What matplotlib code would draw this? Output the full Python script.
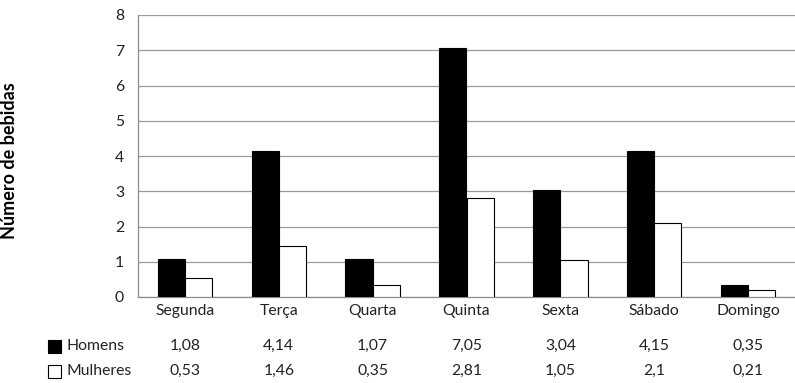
import numpy as np
import matplotlib.pyplot as plt
from matplotlib.patches import Rectangle

plt.rcParams['font.family'] = ['Lato', 'DejaVu Sans']

dias = ["Segunda", "Terça", "Quarta", "Quinta", "Sexta", "Sábado", "Domingo"]
homens = [1.08, 4.14, 1.07, 7.05, 3.04, 4.15, 0.35]
mulheres = [0.53, 1.46, 0.35, 2.81, 1.05, 2.1, 0.21]
rotulos_h = ["1,08", "4,14", "1,07", "7,05", "3,04", "4,15", "0,35"]
rotulos_m = ["0,53", "1,46", "0,35", "2,81", "1,05", "2,1", "0,21"]

FS = 11.3

fig = plt.figure(figsize=(7.95, 3.83), dpi=100)
ax = fig.add_axes([138 / 795, 1 - 297 / 383, 657 / 795, 282 / 383])

x = np.arange(len(dias))
w = 0.29
ax.bar(x - w / 2, homens, w, color="black", edgecolor="black", linewidth=0.8, zorder=3)
ax.bar(x + w / 2, mulheres, w, color="white", edgecolor="black", linewidth=0.8, zorder=3)

ax.set_xlim(-0.5, len(dias) - 0.5)
ax.set_ylim(0, 8)
ax.set_yticks(range(0, 9))
ax.yaxis.grid(True, color="#9a9a9a", linewidth=0.9, zorder=0)
for s in ["top", "right"]:
    ax.spines[s].set_visible(False)
for s in ["left", "bottom"]:
    ax.spines[s].set_color("#8c8c8c")
    ax.spines[s].set_linewidth(0.9)
ax.tick_params(axis="y", length=0, pad=10, labelsize=FS, labelcolor="#222222")
ax.tick_params(axis="x", length=0, pad=5, labelsize=FS, labelcolor="#222222")
ax.set_xticks(x)
ax.set_xticklabels(dias)
ax.set_ylabel("Número de bebidas", fontsize=13, fontweight="bold")
ax.yaxis.set_label_coords(-0.183, 0.485)

# data table below the chart
for yy, nome, cor, rot in [(346, "Homens", "black", rotulos_h),
                           (371, "Mulheres", "white", rotulos_m)]:
    yf = 1 - yy / 383
    fig.patches.append(Rectangle((48 / 795, yf - 6.5 / 383), 13 / 795, 13 / 383,
                                 transform=fig.transFigure, facecolor=cor,
                                 edgecolor="black", linewidth=0.8))
    fig.text(66 / 795, yf, nome, fontsize=FS, va="center", color="#222222")
    for i, r in enumerate(rot):
        xd = ax.transData.transform((i, 0))[0]
        xf = fig.transFigure.inverted().transform((xd, 0))[0]
        fig.text(xf, yf, r, fontsize=FS, va="center", ha="center", color="#222222")

fig.savefig("out.png", dpi=100)
